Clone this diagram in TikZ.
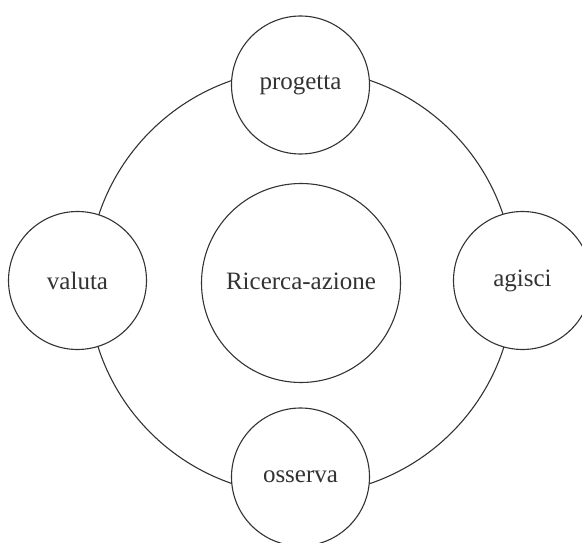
\documentclass[tikz,border=0pt]{standalone}
\usepackage{fontspec}
\setmainfont{Liberation Serif}
\definecolor{ink}{HTML}{333333}
\begin{document}
\begin{tikzpicture}[x=1pt,y=-1pt,
  line width=1.1pt,
  every node/.style={font=\fontsize{25}{29}\selectfont, text=ink},
  phase/.style={circle, draw=ink, fill=white, minimum size=138pt, inner sep=0pt},
  core/.style={circle, draw=ink, fill=white, minimum size=199pt, inner sep=0pt}]
\useasboundingbox (0,0) rectangle (582,543);
\coordinate (ringc) at (301,282);
\draw[ink] (ringc) circle[radius=213pt];
\node[phase] (progetta) at (300.5,85) {progetta};
\node[phase] (agisci) at (522.5,280.5) {agisci};
\node[phase] (osserva) at (300.5,477) {osserva};
\node[phase] (valuta) at (77.5,280.5) {valuta};
\node[core] (ricerca) at (301,283) {\raisebox{4pt}{Ricerca-azione}};
\end{tikzpicture}
\end{document}
